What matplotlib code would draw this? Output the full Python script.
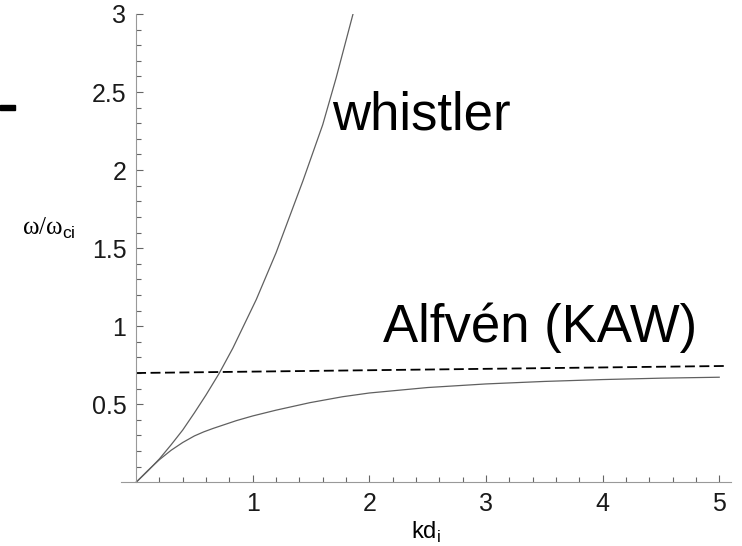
import matplotlib.pyplot as plt
from matplotlib.patches import Rectangle

plt.rcParams['font.family'] = ['Liberation Sans', 'DejaVu Sans']
plt.rcParams['mathtext.fontset'] = 'custom'
plt.rcParams['mathtext.rm'] = 'Liberation Serif'
plt.rcParams['mathtext.sf'] = 'Liberation Sans'

# values
whistler_k = [0, 0.1, 0.2, 0.3, 0.4, 0.5, 0.6, 0.714, 0.83, 1.03, 1.2, 1.43, 1.6, 1.715, 1.86]
whistler_w = [0, 0.072, 0.15, 0.24, 0.335, 0.445, 0.56, 0.70, 0.86, 1.17, 1.47, 1.93, 2.29, 2.59, 3.0]

alfven_k = [0, 0.1, 0.2, 0.3, 0.4, 0.5, 0.58, 0.66, 0.86, 1.0, 1.2, 1.49, 1.77, 2.0,
            2.5, 3.0, 3.5, 4.0, 4.5, 5.0]
alfven_w = [0, 0.075, 0.145, 0.205, 0.255, 0.297, 0.323, 0.345, 0.395, 0.425, 0.462, 0.51,
            0.548, 0.572, 0.607, 0.63, 0.646, 0.658, 0.667, 0.673]

ref_k = [0, 5.04]
ref_w = [0.70, 0.745]

x_ticks = [1, 2, 3, 4, 5]
y_ticks = [0.5, 1, 1.5, 2, 2.5, 3]

fig = plt.figure(figsize=(7.42, 5.46), dpi=100)
ax = fig.add_axes([0.163, 0.1167, 0.822, 0.8577])

ax.plot(whistler_k, whistler_w, color='#606060', lw=0.9)
ax.plot(alfven_k, alfven_w, color='#606060', lw=0.9)
ax.plot(ref_k, ref_w, color='black', lw=1.3, dashes=(5.5, 2.5))

ax.set_xlim(-0.13, 5.1)
ax.set_ylim(0, 3)

for s in ['top', 'right']:
    ax.spines[s].set_visible(False)
ax.spines['left'].set_position(('data', 0))
for s in ['left', 'bottom']:
    ax.spines[s].set_color('#999999')
    ax.spines[s].set_linewidth(0.8)

ax.set_xticks(x_ticks)
ax.set_xticklabels([str(v) for v in x_ticks])
ax.set_yticks(y_ticks)
ax.set_yticklabels(['0.5', '1', '1.5', '2', '2.5', '3'])
ax.set_xticks([i * 0.2 for i in range(1, 26) if i % 5], minor=True)
ax.set_yticks([i * 0.1 for i in range(1, 30) if i % 5], minor=True)
ax.tick_params(which='both', direction='in', color='#666666', width=0.8,
               labelsize=18, labelcolor='#1a1a1a')
ax.tick_params(which='major', length=5, pad=7)
ax.tick_params(which='minor', length=3.5)

ax.set_xlabel(r'kd$_{\mathsf{i}}$', fontsize=17, labelpad=3)
fig.text(0.03, 0.57, r'$\mathrm{\omega/\omega}_{\mathsf{ci}}$', fontsize=18,
         ha='left', va='baseline')

fig.text(0.447, 0.762, 'whistler', fontsize=38, ha='left', va='baseline')
fig.text(0.516, 0.374, 'Alfvén (KAW)', fontsize=38, ha='left', va='baseline')

# stray mark at the left edge of the original scan
fig.add_artist(Rectangle((0, 0.799), 0.02, 0.008, transform=fig.transFigure,
                         color='black'))

fig.savefig('out.png', dpi=100)
